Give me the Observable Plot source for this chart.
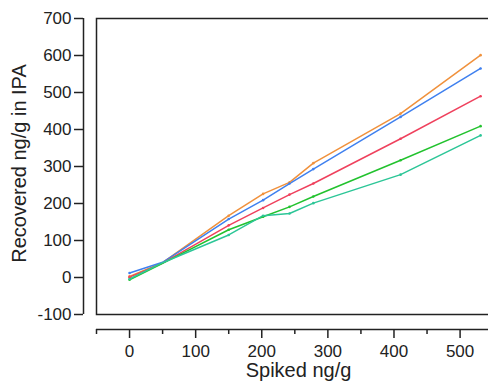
<!DOCTYPE html>
<html>
<head>
<meta charset="utf-8">
<script src="https://cdn.jsdelivr.net/npm/d3@7"></script>
<script src="https://cdn.jsdelivr.net/npm/@observablehq/plot@0.6"></script>
<style>
  html, body { margin: 0; padding: 0; background: #fff; }
  #chart svg { display: block; }
</style>
</head>
<body>
<div id="chart"></div>
<script>
// ---- data ----
const spiked = [0, 50, 150, 202, 242, 278, 410, 531];
const seriesNames = ["S1", "S2", "S3", "S4", "S5"];
const seriesColors = ["#f0913c", "#3f80ef", "#ef415d", "#22c22e", "#2cc697"];
const s1Values = [3, 40, 167, 226, 257, 309, 443, 601];
const s2Values = [12, 41, 158, 209, 254, 293, 434, 565];
const s3Values = [1, 39, 141, 188, 224, 254, 375, 490];
const s4Values = [-6, 38, 129, 164, 191, 219, 317, 409];
const s5Values = [-4, 40, 115, 167, 173, 201, 278, 384];
const xTicks = [0, 100, 200, 300, 400, 500];
const xMinorTicks = [-50, 50, 150, 250, 350, 450];
const yTicks = [-100, 0, 100, 200, 300, 400, 500, 600, 700];
const xDomain = [-50, 546];
const yDomain = [-100, 700];
const xTitle = "Spiked ng/g";
const yTitle = "Recovered ng/g in IPA";

const allValues = [s1Values, s2Values, s3Values, s4Values, s5Values];
const rows = [];
allValues.forEach((vals, i) => {
  vals.forEach((v, j) => rows.push({series: seriesNames[i], x: spiked[j], y: v}));
});

const ink = "#222";
const chart = Plot.plot({
  width: 488,
  height: 389,
  marginLeft: 96,
  marginRight: -2,
  marginTop: 18,
  marginBottom: 75,
  style: {fontFamily: "'Liberation Sans', Arial, sans-serif", fontSize: "17px", color: ink, background: "#fff"},
  x: {domain: xDomain},
  y: {domain: yDomain},
  color: {domain: seriesNames, range: seriesColors},
  marks: [
    Plot.frame({stroke: ink, strokeWidth: 1.5}),
    // y axis, offset left of the frame
    Plot.ruleX([xDomain[0]], {dx: -13, stroke: ink, strokeWidth: 1.5}),
    Plot.axisY({ticks: yTicks, tickSize: 9, tickPadding: 3, dx: -13, label: null, fontSize: 17, stroke: ink, strokeWidth: 1.5, tickFormat: d => d < 0 ? "-" + Math.abs(d) : String(d)}),
    // x axis, offset below the frame
    Plot.ruleY([yDomain[0]], {dy: 15, stroke: ink, strokeWidth: 1.5}),
    Plot.axisX({ticks: xTicks, tickSize: 9, tickPadding: 6, dy: 15, label: null, fontSize: 17, stroke: ink, strokeWidth: 1.5}),
    Plot.axisX({ticks: xMinorTicks, tickSize: 5, text: null, dy: 15, label: null, stroke: ink, strokeWidth: 1.5}),
    // titles
    Plot.text([yTitle], {frameAnchor: "left", textAnchor: "middle", lineAnchor: "middle", rotate: -90, dx: -77, dy: -3, fontSize: 20, fill: ink}),
    Plot.text([xTitle], {frameAnchor: "bottom", textAnchor: "middle", lineAnchor: "middle", dy: 56, dx: 5, fontSize: 20, fill: ink}),
    // data
    Plot.line(rows, {x: "x", y: "y", z: "series", stroke: "series", strokeWidth: 1.5}),
    Plot.dot(rows.filter(d => d.x !== 50), {x: "x", y: "y", fill: "series", r: 1.3})
  ]
});
document.getElementById("chart").appendChild(chart);
</script>
</body>
</html>
